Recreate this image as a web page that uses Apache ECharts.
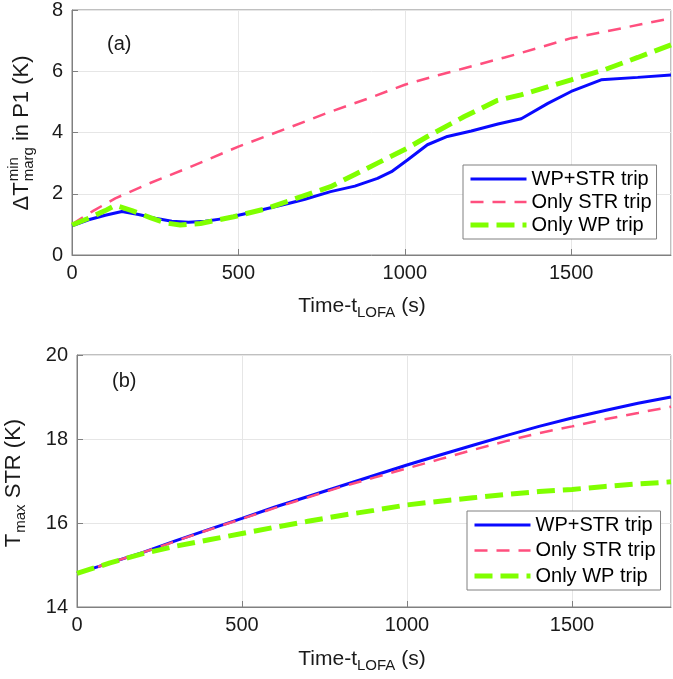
<!DOCTYPE html>
<html><head><meta charset="utf-8">
<script src="https://cdn.jsdelivr.net/npm/echarts@6/dist/echarts.min.js"></script>
<style>html,body{margin:0;padding:0;background:#fff}#c{width:673px;height:679px}</style>
</head><body><div id="c"></div>
<script>
// ---- Panel (a): ΔT_marg^min in P1 (K) ----
const tBlueA  = [0,50,100,150,200,250,300,350,400,450,500,550,600,650,700,777,850,918,960,1008,1068,1128,1200,1280,1350,1430,1500,1590,1700,1800];
const blueA   = [0.95,1.15,1.3,1.42,1.32,1.2,1.1,1.07,1.1,1.18,1.3,1.42,1.55,1.68,1.82,2.07,2.25,2.5,2.72,3.1,3.6,3.87,4.05,4.28,4.45,4.95,5.34,5.72,5.8,5.88];
const tPinkA  = [0,65,130,235,350,500,650,777,900,1000,1100,1179,1300,1350,1500,1650,1800];
const pinkA   = [1.0,1.45,1.85,2.35,2.85,3.54,4.15,4.68,5.15,5.56,5.87,6.1,6.45,6.6,7.08,7.4,7.73];
const tGreenA = [0,50,100,130,180,235,280,325,386,486,586,687,777,850,918,1008,1068,1179,1279,1349,1500,1600,1700,1800];
const greenA  = [0.98,1.2,1.45,1.62,1.45,1.22,1.05,0.98,1.03,1.25,1.52,1.9,2.23,2.63,3.0,3.49,3.87,4.52,5.05,5.23,5.72,6.05,6.45,6.86];
// ---- Panel (b): T_max STR (K) ----
const tB     = [0,100,200,300,400,500,600,700,800,900,1000,1100,1200,1300,1400,1500,1600,1700,1800];
const blueB  = [14.8,15.05,15.3,15.58,15.85,16.11,16.38,16.63,16.88,17.13,17.38,17.62,17.85,18.08,18.3,18.5,18.68,18.85,19.0];
const pinkB  = [14.8,15.05,15.3,15.57,15.84,16.1,16.36,16.61,16.86,17.08,17.3,17.52,17.74,17.95,18.14,18.3,18.47,18.62,18.77];
const greenB = [14.8,15.05,15.27,15.45,15.6,15.75,15.9,16.04,16.18,16.3,16.43,16.52,16.6,16.68,16.75,16.8,16.87,16.93,16.98];
const seriesNames = ['WP+STR trip','Only STR trip','Only WP trip'];
const xTicks = {min:0, max:1800, interval:500};
const yTicksA = {min:0, max:8, interval:2};
const yTicksB = {min:14, max:20, interval:2};

const FF = '"Liberation Sans", Arial, Helvetica, sans-serif';
const ctx = document.createElement('canvas').getContext('2d');
function tw(t, s){ ctx.font = s + 'px ' + FF; return ctx.measureText(t).width; }
function pairs(ts, vs){ return ts.map((t,i)=>[t, vs[i]]); }

const styles = [
  {color:'#0a0aff', width:3, type:'solid'},
  {color:'#ff4f7e', width:2.5, type:[13,9]},
  {color:'#80ff00', width:5, type:[18,8]}
];
function mkSeries(name, idx, data, st){
  return {name, type:'line', xAxisIndex:idx, yAxisIndex:idx, data, symbol:'none', showSymbol:false,
    lineStyle:{color:st.color, width:st.width, type:st.type}, itemStyle:{color:st.color}, animation:false, silent:true};
}

function txt(x, y, text, size, opts){
  return Object.assign({type:'text', x, y, style:{text, font: size+'px '+FF, fill:'#1a1a1a',
    textAlign:'left', textVerticalAlign:'middle', align:'left', verticalAlign:'middle'}}, opts||{});
}
function xTitle(cx, cy){
  const M=21, S=15;
  const w1=tw('Time-t',M), w2=tw('LOFA',S), w3=tw(' (s)',M);
  const x0 = cx - (w1+w2+w3)/2;
  return {type:'group', children:[
    txt(x0, cy, 'Time-t', M), txt(x0+w1, cy+7, 'LOFA', S), txt(x0+w1+w2, cy, ' (s)', M)
  ]};
}
function yTitleA(cx, cy){
  const M=22, S=15;
  const wD=tw('ΔT',M), wMin=tw('min',S), wMarg=tw('marg',S), wR=tw(' in P1 (K)',M);
  const wS=Math.max(wMin,wMarg)+1;
  const tot=wD+wS+wR, x0=-tot/2;
  return {type:'group', x:cx, y:cy, rotation:Math.PI/2, children:[
    txt(x0, 0, 'ΔT', M), txt(x0+wD+1, -8, 'min', S), txt(x0+wD+1, 7, 'marg', S), txt(x0+wD+wS, 0, ' in P1 (K)', M)
  ]};
}
function yTitleB(cx, cy){
  const M=22, S=15;
  const wT=tw('T',M), wS=tw('max',S)+1, wR=tw(' STR (K)',M);
  const tot=wT+wS+wR, x0=-tot/2;
  return {type:'group', x:cx, y:cy, rotation:Math.PI/2, children:[
    txt(x0, 0, 'T', M), txt(x0+wT+1, 7, 'max', S), txt(x0+wT+wS, 0, ' STR (K)', M)
  ]};
}

const axisCommonX = (g)=>({type:'value', gridIndex:g, min:xTicks.min, max:xTicks.max, interval:xTicks.interval,
  axisLine:{show:true, lineStyle:{color:'#808080', width:1}},
  axisTick:{show:true, inside:true, length:6, lineStyle:{color:'#808080'}},
  axisLabel:{fontSize:20, color:'#1a1a1a', fontFamily:FF, margin:8, showMaxLabel:false, formatter:(v)=>String(v)},
  splitLine:{show:true, lineStyle:{color:'#e6e6e6', width:1}}});
const axisCommonY = (g, tk)=>({type:'value', gridIndex:g, min:tk.min, max:tk.max, interval:tk.interval,
  axisLine:{show:true, lineStyle:{color:'#808080', width:1}},
  axisTick:{show:true, inside:true, length:6, lineStyle:{color:'#808080'}},
  axisLabel:{fontSize:20, color:'#1a1a1a', fontFamily:FF, margin:9, formatter:(v)=>String(v)},
  splitLine:{show:true, lineStyle:{color:'#e6e6e6', width:1}}});

const legendData = seriesNames.map((n,i)=>({name:n,
  lineStyle:{color:styles[i].color, width:styles[i].width, type:styles[i].type}}));
const legendCommon = (left, top, gap)=>({orient:'vertical', left, top, itemWidth:56, itemHeight:14, itemGap:gap,
  padding:[4,5,4,5], borderColor:'#808080', borderWidth:1, backgroundColor:'#fff',
  itemStyle:{opacity:0, color:'transparent', borderWidth:0},
  lineStyle:{width:'inherit'},
  textStyle:{fontSize:20, color:'#000', fontFamily:FF, lineHeight:20}, data:legendData, selectedMode:false});

const chart = echarts.init(document.getElementById('c'), null, {renderer:'canvas'});
chart.setOption({
  animation:false,
  backgroundColor:'#fff',
  grid:[
    {left:72, right:2, top:10, height:245, show:true, borderColor:'#808080', borderWidth:1, backgroundColor:'transparent'},
    {left:77, right:2, top:355, height:252, show:true, borderColor:'#808080', borderWidth:1, backgroundColor:'transparent'}
  ],
  xAxis:[axisCommonX(0), axisCommonX(1)],
  yAxis:[axisCommonY(0, yTicksA), axisCommonY(1, yTicksB)],
  legend:[legendCommon(463, 165, 3), legendCommon(467, 511, 5.5)],
  series:[
    mkSeries(seriesNames[0], 0, pairs(tBlueA, blueA), styles[0]),
    mkSeries(seriesNames[1], 0, pairs(tPinkA, pinkA), styles[1]),
    mkSeries(seriesNames[2], 0, pairs(tGreenA, greenA), styles[2]),
    mkSeries(seriesNames[0], 1, pairs(tB, blueB), styles[0]),
    mkSeries(seriesNames[1], 1, pairs(tB, pinkB), styles[1]),
    mkSeries(seriesNames[2], 1, pairs(tB, greenB), styles[2])
  ],
  graphic:[
    xTitle(362, 306), xTitle(362, 659),
    yTitleA(22, 133), yTitleB(14, 483),
    txt(107, 44, '(a)', 20), txt(112, 381, '(b)', 20)
  ]
});
</script></body></html>
